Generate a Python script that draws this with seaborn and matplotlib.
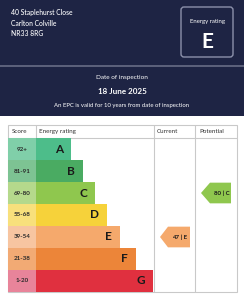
import matplotlib
matplotlib.use("Agg")
import matplotlib.pyplot as plt
import seaborn as sns
import pandas as pd
from matplotlib.patches import Rectangle, FancyBboxPatch, Polygon

sns.set_theme(style="white")
plt.rcParams['font.family'] = ['Lato', 'DejaVu Sans']

# ---- data ----
address = ["40 Staplehurst Close", "Carlton Colville", "NR33 8RG"]
current_band = "E"
current_score = 47
potential_band = "C"
potential_score = 80
inspection_date = "18 June 2025"
validity_note = "An EPC is valid for 10 years from date of inspection"
bands = ["A", "B", "C", "D", "E", "F", "G"]
score_ranges = ["92+", "81-91", "69-80", "55-68", "39-54", "21-38", "1-20"]
bar_lengths = [35, 47, 59, 71, 84, 100, 117]
band_colors = ["#4dbd8a", "#4aab62", "#8fc74e", "#f6d23a", "#f5a96c", "#ec8539", "#e0303f"]
score_colors = ["#80cfa9", "#7dc393", "#b5d98c", "#f8e07c", "#f7c5a1", "#f2aa74", "#e8849a"]

W, H = 244, 300
NAVY = "#1e2444"
fig = plt.figure(figsize=(W / 100, H / 100), dpi=100)
fig.patch.set_facecolor("white")

bg = fig.add_axes([0, 0, 1, 1])
bg.set_xlim(0, W)
bg.set_ylim(H, 0)
bg.axis("off")

# header panels
bg.add_patch(Rectangle((0, 0), W, 116, color=NAVY, lw=0))
bg.plot([0, W], [66, 66], color="#5d627c", lw=1.4)
for i, line in enumerate(address):
    bg.text(11, 12 + 11 * i, line, color="white", fontsize=4.9, va="center", ha="left",
            weight="medium")
bg.add_patch(FancyBboxPatch((181, 7), 52, 50, boxstyle="round,pad=0,rounding_size=3",
                            fc="none", ec="#8c91ab", lw=1))
bg.text(207, 21, "Energy rating", color="white", fontsize=4.3, ha="center", va="center")
bg.text(207, 42, current_band, color="white", fontsize=15, weight="bold", ha="center", va="center")
bg.text(122, 78, "Date of inspection", color="white", fontsize=4.6, ha="center", va="center")
bg.text(122, 91, inspection_date, color="white", fontsize=5.8, weight="bold", ha="center", va="center")
bg.text(122, 105, validity_note, color="white", fontsize=4.3, ha="center", va="center")

# table frame
GRID = "#c9c9c9"
bg.add_patch(Rectangle((8, 125), 229, 167, fc="none", ec=GRID, lw=0.8))
bg.plot([8, 237], [138, 138], color=GRID, lw=0.8)
bg.plot([36, 36], [125, 138], color=GRID, lw=0.8)
bg.plot([154, 154], [125, 292], color=GRID, lw=0.8)
bg.plot([195, 195], [125, 292], color=GRID, lw=0.8)
hdr_kw = dict(fontsize=4.5, color="#333333", va="center", ha="left")
bg.text(12, 131.5, "Score", **hdr_kw)
bg.text(39, 131.5, "Energy rating", **hdr_kw)
bg.text(157, 131.5, "Current", **hdr_kw)
bg.text(199, 131.5, "Potential", **hdr_kw)

# bars axes
ax = fig.add_axes([8 / W, (H - 292) / H, 229 / W, 154 / H])
df = pd.DataFrame({"band": bands, "length": bar_lengths, "score": score_ranges})
sns.barplot(data=df, x="length", y="band", hue="band", palette=band_colors,
            width=1.0, legend=False, orient="h", ax=ax, linewidth=0, saturation=1)
ax.barh(range(len(bands)), 28, left=-28, height=1.0, color=score_colors, lw=0)
ax.set_xlim(-28, 201)
ax.set_ylim(6.5, -0.5)
ax.axis("off")

for i, (b, L, s) in enumerate(zip(bands, bar_lengths, score_ranges)):
    ax.text(L - 8, i, b, ha="right", va="center", fontsize=8.5, weight="bold", color="#1a1a1a")
    ax.text(-14, i, s, ha="center", va="center", fontsize=4.5, weight="bold", color="#2a2a2a")

def arrow(row, tip, shoulder, right, label, color):
    h = 0.47
    ax.add_patch(Polygon([(tip, row), (shoulder, row - h), (right, row - h),
                          (right, row + h), (shoulder, row + h)], closed=True,
                         fc=color, ec="none"))
    ax.text((shoulder + right) / 2 + 1, row, label, ha="center", va="center",
            fontsize=4.4, weight="bold", color="#1a1a1a")

ci = bands.index(current_band)
pi = bands.index(potential_band)
arrow(ci, 124, 132, 154, f"{current_score} | {current_band}", band_colors[ci])
arrow(pi, 165, 174, 195, f"{potential_score} | {potential_band}", band_colors[pi])

fig.savefig("out.png", dpi=100)
